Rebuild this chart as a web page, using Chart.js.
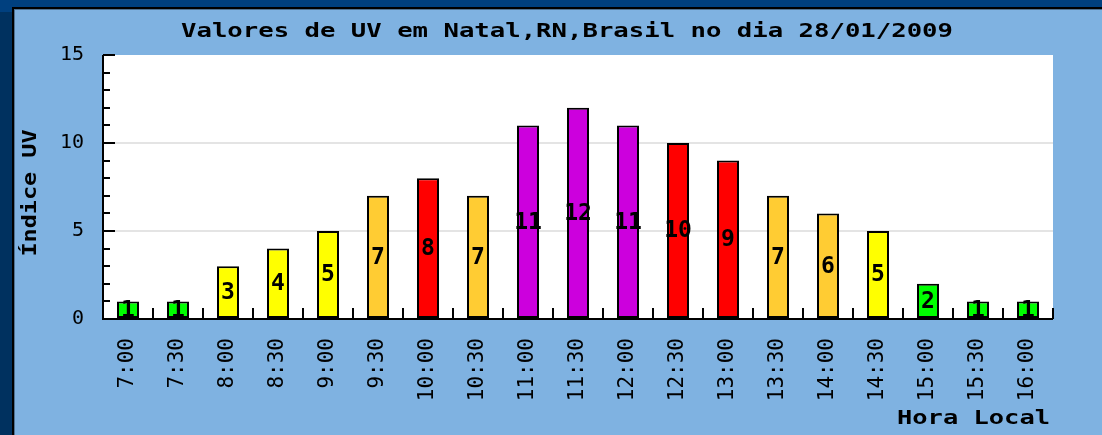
<!DOCTYPE html>
<html>
<head>
<meta charset="utf-8">
<script src="https://cdn.jsdelivr.net/npm/chart.js@4/dist/chart.umd.min.js"></script>
<style>
  html, body { margin: 0; padding: 0; background: #003f7f; }
  #wrap { width: 1102px; height: 435px; position: relative; }
</style>
</head>
<body>
<div id="wrap"><canvas id="c" width="1102" height="435"></canvas></div>
<script>
const titleText = "Valores de UV em Natal,RN,Brasil no dia 28/01/2009";
const yTitleText = "Índice UV";
const xTitleText = "Hora Local";
const hours = ["7:00","7:30","8:00","8:30","9:00","9:30","10:00","10:30","11:00","11:30","12:00","12:30","13:00","13:30","14:00","14:30","15:00","15:30","16:00"];
const uvValues = [1,1,3,4,5,7,8,7,11,12,11,10,9,7,6,5,2,1,1];
const yTicks = [0,5,10,15];

function uvColor(v) {
  if (v <= 2) return "#00ff00";
  if (v <= 5) return "#ffff00";
  if (v <= 7) return "#ffcc33";
  if (v <= 10) return "#ff0000";
  return "#cc00dd";
}

const MONO = "'DejaVu Sans Mono', 'Liberation Mono', monospace";

// draws text stretched horizontally so that it spans targetWidth
function stretchedText(ctx, text, x, y, targetWidth, align, angle) {
  const w = ctx.measureText(text).width;
  const sx = targetWidth / w;
  ctx.save();
  ctx.translate(x, y);
  if (angle) ctx.rotate(angle);
  ctx.scale(sx, 1);
  ctx.textAlign = align;
  ctx.fillText(text, 0, 0);
  ctx.restore();
}

const backgroundPlugin = {
  id: "bg",
  beforeDraw(chart) {
    const ctx = chart.ctx;
    const a = chart.chartArea;
    ctx.save();
    // outer frame
    ctx.fillStyle = "#00407f";
    ctx.fillRect(0, 0, 1102, 435);
    ctx.fillStyle = "#00315f";
    ctx.fillRect(0, 12, 12, 435);
    // panel
    ctx.fillStyle = "#000000";
    ctx.fillRect(12, 7, 1102, 435);
    ctx.fillStyle = "#4f7394";
    ctx.fillRect(14, 9, 1102, 435);
    ctx.fillStyle = "#7fb2e1";
    ctx.fillRect(15, 10, 1102, 435);
    // plot area
    ctx.fillStyle = "#ffffff";
    ctx.fillRect(a.left, a.top, a.right - a.left, a.bottom - a.top);
    ctx.restore();
  },
  afterDraw(chart) {
    const ctx = chart.ctx;
    const a = chart.chartArea;
    const ys = chart.scales.y;
    const xs = chart.scales.x;
    ctx.save();
    ctx.strokeStyle = "#000";
    ctx.lineWidth = 2;
    // y minor/major ticks inward
    for (let v = 0; v <= 15; v++) {
      const py = Math.round(ys.getPixelForValue(v));
      const len = (v % 5 === 0) ? 12 : 7;
      ctx.beginPath();
      ctx.moveTo(a.left, py);
      ctx.lineTo(a.left + len, py);
      ctx.stroke();
    }
    // x ticks at category boundaries, upward
    const step = xs.getPixelForValue(1) - xs.getPixelForValue(0);
    for (let i = 0; i <= hours.length; i++) {
      const px = Math.round(xs.getPixelForValue(0) - step / 2 + i * step);
      ctx.beginPath();
      ctx.moveTo(px, a.bottom);
      ctx.lineTo(px, a.bottom - 11);
      ctx.stroke();
    }
    // axes lines
    ctx.beginPath();
    ctx.moveTo(a.left, a.top);
    ctx.lineTo(a.left, a.bottom);
    ctx.lineTo(a.right, a.bottom);
    ctx.stroke();
    // titles
    ctx.fillStyle = "#000";
    ctx.font = "bold 20px " + MONO;
    ctx.textBaseline = "middle";
    stretchedText(ctx, titleText, 567, 32, 772, "center", 0);
    stretchedText(ctx, xTitleText, 1050, 419, 153, "right", 0);
    stretchedText(ctx, yTitleText, 31, 193, 127, "center", -Math.PI / 2);
    // value labels
    const meta = chart.getDatasetMeta(0);
    ctx.font = "bold 23px " + MONO;
    ctx.textAlign = "center";
    ctx.textBaseline = "middle";
    meta.data.forEach((bar, i) => {
      const cy = (bar.y + bar.base) / 2;
      ctx.fillText(String(uvValues[i]), bar.x, cy + 1);
    });
    ctx.restore();
  }
};

new Chart(document.getElementById("c"), {
  type: "bar",
  data: {
    labels: hours,
    datasets: [{
      data: uvValues,
      backgroundColor: uvValues.map(uvColor),
      borderColor: "#000000",
      borderWidth: 2,
      borderSkipped: false,
      barPercentage: 0.44,
      categoryPercentage: 1.0
    }]
  },
  options: {
    responsive: false,
    animation: false,
    events: [],
    layout: { padding: { top: 55, right: 49, left: 0, bottom: 0 } },
    plugins: { legend: { display: false }, title: { display: false }, tooltip: { enabled: false } },
    scales: {
      x: {
        offset: true,
        grid: { display: false, drawTicks: false },
        border: { display: false },
        ticks: {
          minRotation: 90, maxRotation: 90, autoSkip: false,
          padding: 19,
          color: "#000",
          font: { family: MONO, size: 21 }
        },
        afterFit(scale) { scale.height = 435 - 319; }
      },
      y: {
        min: 0, max: 15,
        afterBuildTicks(scale) { scale.ticks = yTicks.map(v => ({ value: v })); },
        grid: {
          drawTicks: false,
          lineWidth: 2,
          color: (c) => (c.tick && (c.tick.value === 5 || c.tick.value === 10)) ? "#e4e4e4" : "rgba(0,0,0,0)"
        },
        border: { display: false },
        ticks: {
          padding: 19,
          color: "#000",
          font: { family: MONO, size: 20 }
        },
        afterFit(scale) { scale.width = 103; }
      }
    }
  },
  plugins: [backgroundPlugin]
});
</script>
</body>
</html>
